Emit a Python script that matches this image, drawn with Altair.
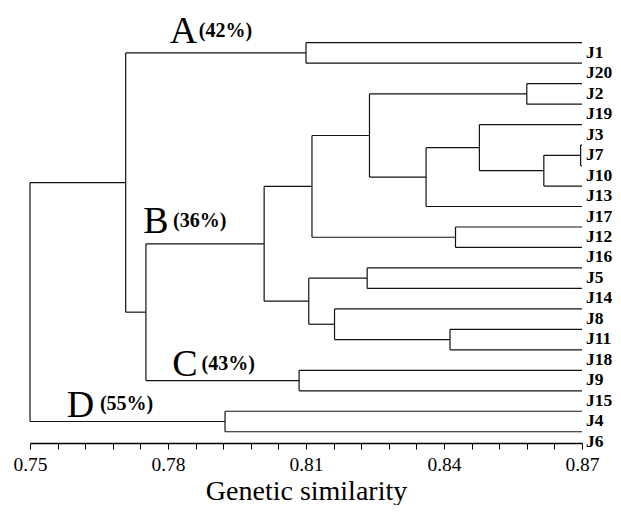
import altair as alt
import pandas as pd

# ---- data ----
leaves = ["J1", "J20", "J2", "J19", "J3", "J7", "J10", "J13", "J17", "J12",
          "J16", "J5", "J14", "J8", "J11", "J18", "J9", "J15", "J4", "J6"]
leaf_sim = 0.87

# merge m_i joins merge_left[i] and merge_right[i] at similarity merge_sim[i]
merge_left = ["J1", "J2", "J7", "m2", "J3", "m4", "m1", "J12", "m6", "J5",
              "J11", "J8", "m9", "m8", "J9", "m13", "m0", "J4", "m16"]
merge_right = ["J20", "J19", "J10", "J13", "m3", "J17", "m5", "J16", "m7", "J14",
               "J18", "m10", "m11", "m12", "J15", "m14", "m15", "J6", "m17"]
merge_sim = [0.8100, 0.8580, 0.8697, 0.8617, 0.8477, 0.8361, 0.8238, 0.8425,
             0.8113, 0.8233, 0.8413, 0.8162, 0.8106, 0.8009, 0.8085, 0.7752,
             0.7708, 0.7924, 0.7500]

cluster_letters = ["A", "B", "C", "D"]
cluster_pcts = ["(42%)", "(36%)", "(43%)", "(55%)"]
letter_x = [0.7804, 0.7746, 0.7809, 0.7580]
letter_y = [0.03, 9.31, 16.30, 18.27]
pct_x = [0.7867, 0.7811, 0.7873, 0.7652]
pct_y = [-0.28, 9.00, 15.98, 17.94]

tick_values = [0.75, 0.756, 0.762, 0.768, 0.774, 0.78, 0.786, 0.792, 0.798,
               0.804, 0.81, 0.816, 0.822, 0.828, 0.834, 0.84, 0.846, 0.852,
               0.858, 0.864, 0.87]

# ---- build dendrogram segments ----
pos = {name: i for i, name in enumerate(leaves)}
height = {name: leaf_sim for name in leaves}
segs = []
for i, (a, b, h) in enumerate(zip(merge_left, merge_right, merge_sim)):
    ya, yb = pos[a], pos[b]
    segs.append({"x": h, "x2": h, "y": ya, "y2": yb})
    segs.append({"x": h, "x2": height[a], "y": ya, "y2": ya})
    segs.append({"x": h, "x2": height[b], "y": yb, "y2": yb})
    name = f"m{i}"
    pos[name] = (ya + yb) / 2
    height[name] = h
seg_df = pd.DataFrame(segs)

leaf_df = pd.DataFrame({"name": leaves, "row": list(range(len(leaves))),
                        "sim": [leaf_sim] * len(leaves)})
letter_df = pd.DataFrame({"t": cluster_letters, "x": letter_x, "y": letter_y})
pct_df = pd.DataFrame({"t": cluster_pcts, "x": pct_x, "y": pct_y})

xscale = alt.Scale(domain=[0.75, 0.87], nice=False, zero=False)
yscale = alt.Scale(domain=[-1.5, 19.55], reverse=True, nice=False, zero=False)

xaxis = alt.Axis(
    values=tick_values,
    labelExpr="round(datum.value*1000) % 30 == 0 ? format(datum.value, '.2f') : ''",
    title="Genetic similarity",
    titleFont="Liberation Serif", titleFontSize=28, titleFontWeight="normal",
    titleColor="black", titleBaseline="alphabetic", titleY=56,
    labelFont="Liberation Serif", labelFontSize=19.5, labelColor="black",
    labelBaseline="alphabetic", labelPadding=21, labelOverlap=False,
    labelFlush=False,
    tickSize=6, tickColor="black", tickWidth=1,
    domainColor="black", domainWidth=1.3, grid=False,
)

lines = alt.Chart(seg_df).mark_rule(color="#111", strokeWidth=1.2).encode(
    x=alt.X("x:Q", scale=xscale, axis=xaxis),
    x2="x2:Q",
    y=alt.Y("y:Q", scale=yscale, axis=None),
    y2="y2:Q",
)

leaf_text = alt.Chart(leaf_df).mark_text(
    align="left", baseline="alphabetic", dx=4, dy=15,
    font="Liberation Serif", fontWeight="bold", fontSize=17.5, color="black",
).encode(
    x=alt.X("sim:Q", scale=xscale, axis=xaxis),
    y=alt.Y("row:Q", scale=yscale, axis=None),
    text="name:N",
)

letters = alt.Chart(letter_df).mark_text(
    align="left", baseline="alphabetic",
    font="Liberation Serif", fontSize=38, color="black",
).encode(
    x=alt.X("x:Q", scale=xscale, axis=xaxis),
    y=alt.Y("y:Q", scale=yscale, axis=None),
    text="t:N",
)

pcts = alt.Chart(pct_df).mark_text(
    align="left", baseline="alphabetic",
    font="Liberation Serif", fontWeight="bold", fontSize=20, color="black",
).encode(
    x=alt.X("x:Q", scale=xscale, axis=xaxis),
    y=alt.Y("y:Q", scale=yscale, axis=None),
    text="t:N",
)

chart = alt.layer(lines, leaf_text, letters, pcts).properties(
    width=552, height=431,
    autosize=alt.AutoSizeParams(type="none"),
    padding={"left": 22, "top": 4, "right": 31, "bottom": 62},
    background="white",
).configure_view(stroke=None)

chart.save("out.html", embed_options={"renderer": "svg", "actions": False})
